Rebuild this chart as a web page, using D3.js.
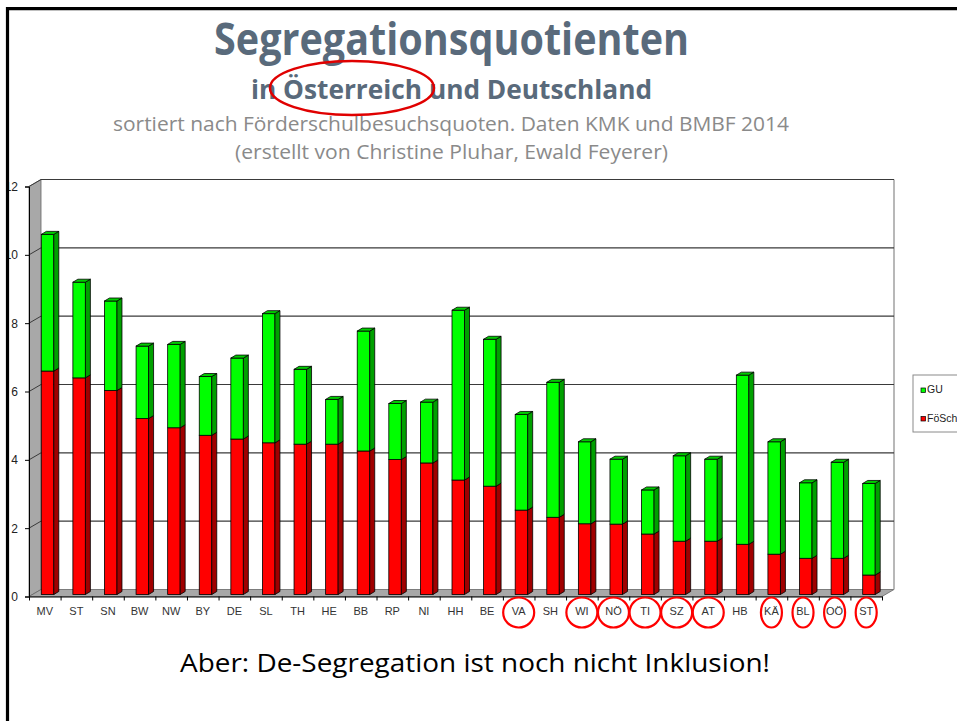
<!DOCTYPE html>
<html>
<head>
<meta charset="utf-8">
<script src="https://cdn.jsdelivr.net/npm/d3@7"></script>
<style>
  body { margin: 0; background: #fff; }
  svg { display: block; }
</style>
</head>
<body>
<div class="svg-container"></div>
<script>
var width = 957,
  height = 721;

// Bundesländer (DE) und Bundesländer (AT), sortiert nach Förderschulbesuchsquote
var categories = ["MV", "ST", "SN", "BW", "NW", "BY", "DE", "SL", "TH", "HE", "BB", "RP", "NI", "HH",
  "BE", "VA", "SH", "WI", "NÖ", "TI", "SZ", "AT", "HB", "KÄ", "BL", "OÖ", "ST"];
var foesch = [6.54, 6.34, 5.97, 5.15, 4.88, 4.66, 4.55, 4.44, 4.40, 4.40, 4.20, 3.95, 3.85, 3.35,
  3.17, 2.47, 2.26, 2.07, 2.06, 1.77, 1.56, 1.56, 1.47, 1.18, 1.06, 1.06, 0.57];
var gu = [4.00, 2.80, 2.62, 2.12, 2.44, 1.72, 2.37, 3.78, 2.19, 1.31, 3.51, 1.64, 1.78, 4.97,
  4.30, 2.80, 3.95, 2.40, 1.90, 1.29, 2.50, 2.40, 4.95, 3.29, 2.21, 2.81, 2.68];
var seriesNames = ["FöSch", "GU"];
var yTicks = [0, 2, 4, 6, 8, 10, 12];
// österreichische Länder, rot eingekreist
var circled = [15, 17, 18, 19, 20, 21, 23, 24, 25, 26];

var svg = d3.select(".svg-container").append("svg")
  .attr("width", width)
  .attr("height", height);

// ---- titles
var titleColor = "#596a7b";
function fitText(txt, x1, x2, y, size, weight, fill) {
  svg.append("text")
    .attr("x", x1)
    .attr("y", y)
    .attr("textLength", x2 - x1)
    .attr("lengthAdjust", "spacingAndGlyphs")
    .style("font-family", "'Open Sans', sans-serif")
    .style("font-size", size + "px")
    .style("font-weight", weight)
    .attr("fill", fill)
    .text(txt);
}
fitText("Segregationsquotienten", 214, 689, 55, 44, "bold", titleColor);
fitText("in Österreich und Deutschland", 251, 652, 99, 27, "bold", titleColor);
fitText("sortiert nach Förderschulbesuchsquoten. Daten KMK und BMBF 2014", 113, 789, 131, 19.5, "normal", "#8a8a8a");
fitText("(erstellt von Christine Pluhar, Ewald Feyerer)", 235, 668, 159, 20.5, "normal", "#8a8a8a");

svg.append("ellipse")
  .attr("cx", 352).attr("cy", 88)
  .attr("rx", 82).attr("ry", 27)
  .attr("fill", "none")
  .attr("stroke", "#e00000")
  .attr("stroke-width", 2.5);

// ---- chart geometry
var x = d3.scaleBand()
  .domain(d3.range(categories.length))
  .range([29, 882]);
var xEdge = d3.scaleLinear()
  .domain([0, categories.length])
  .range([29, 882]);
var y = d3.scaleLinear()
  .domain([0, 12])
  .range([596.5, 186.5]);

var dx = 12, dy = -7;        // depth of the wall/floor
var bdx = 5, bdy = -3;       // depth of a bar
var bw = 12.5;

var chart = svg.append("g");

// left wall
chart.append("polygon")
  .attr("points", [[x.range()[0], y(0)], [x.range()[0], y(12)], [x.range()[0] + dx, y(12) + dy], [x.range()[0] + dx, y(0) + dy]].join(" "))
  .attr("fill", "#a8a8a8")
  .attr("stroke", "#666")
  .attr("stroke-width", 0.8);

// floor
chart.append("polygon")
  .attr("points", [[x.range()[0], y(0)], [x.range()[1], y(0)], [x.range()[1] + dx, y(0) + dy], [x.range()[0] + dx, y(0) + dy]].join(" "))
  .attr("fill", "#a8a8a8")
  .attr("stroke", "#666")
  .attr("stroke-width", 0.8);

// right edge of back wall
chart.append("line")
  .attr("x1", x.range()[1] + dx).attr("x2", x.range()[1] + dx)
  .attr("y1", y(12) + dy).attr("y2", y(0) + dy)
  .attr("stroke", "#a0a0a0")
  .attr("stroke-width", 1.5);

// grid lines on back wall + diagonals on left wall
var grid = chart.selectAll(".grid")
  .data(yTicks.filter(function(d) { return d > 0; }))
  .enter().append("g")
  .attr("class", "grid");
grid.append("line")
  .attr("x1", x.range()[0] + dx)
  .attr("x2", x.range()[1] + dx)
  .attr("y1", function(d) { return y(d) + dy; })
  .attr("y2", function(d) { return y(d) + dy; })
  .attr("stroke", "#3a3a3a")
  .attr("stroke-width", 1.2);
grid.append("line")
  .attr("x1", x.range()[0])
  .attr("x2", x.range()[0] + dx)
  .attr("y1", function(d) { return y(d); })
  .attr("y2", function(d) { return y(d) + dy; })
  .attr("stroke", "#3a3a3a")
  .attr("stroke-width", 1);

// ---- bars
var table = categories.map(function(c, i) {
  return { "FöSch": foesch[i], "GU": gu[i], i: i };
});
var stack = d3.stack().keys(seriesNames)(table);
var colors = {
  "FöSch": { front: "#ff0000", side: "#a00000", top: "#d00000" },
  "GU": { front: "#00ff00", side: "#00a000", top: "#00cc00" }
};

stack.forEach(function(layer, li) {
  var col = colors[layer.key];
  var g = chart.append("g").attr("class", "series");
  var bars = g.selectAll("g")
    .data(layer)
    .enter().append("g");

  function bx(d) { return x(d.data.i) + x.bandwidth() / 2 - 3.5; }
  function by(v) { return y(v) - 2; }

  bars.append("rect")
    .attr("x", bx)
    .attr("y", function(d) { return by(d[1]); })
    .attr("width", bw)
    .attr("height", function(d) { return by(d[0]) - by(d[1]); })
    .attr("fill", col.front)
    .attr("stroke", "#000")
    .attr("stroke-width", 0.8);

  bars.append("polygon")
    .attr("points", function(d) {
      var x0 = bx(d) + bw, y0 = by(d[0]), y1 = by(d[1]);
      return [[x0, y1], [x0 + bdx, y1 + bdy], [x0 + bdx, y0 + bdy], [x0, y0]].join(" ");
    })
    .attr("fill", col.side)
    .attr("stroke", "#000")
    .attr("stroke-width", 0.8);

  if (li === stack.length - 1) {
    bars.append("polygon")
      .attr("points", function(d) {
        var x0 = bx(d), y1 = by(d[1]);
        return [[x0, y1], [x0 + bw, y1], [x0 + bw + bdx, y1 + bdy], [x0 + bdx, y1 + bdy]].join(" ");
      })
      .attr("fill", col.top)
      .attr("stroke", "#000")
      .attr("stroke-width", 0.8);
  }
});

// ---- axes
var yAxis = chart.append("g")
  .attr("transform", "translate(" + x.range()[0] + ",0)")
  .call(d3.axisLeft(y).tickValues(yTicks).tickSize(4).tickPadding(7));
yAxis.select(".domain").attr("stroke", "#000");
yAxis.selectAll("text")
  .style("font-family", "Arial, 'Liberation Sans', sans-serif")
  .style("font-size", "12px")
  .attr("fill", "#222");

var xAxis = chart.append("g")
  .attr("transform", "translate(0," + y(0) + ")")
  .call(d3.axisBottom(x).tickSize(0).tickPadding(10.5)
    .tickFormat(function(i) { return categories[i]; }));
xAxis.select(".domain").attr("stroke", "#000");
xAxis.selectAll("text")
  .style("font-family", "Arial, 'Liberation Sans', sans-serif")
  .style("font-size", "11px")
  .attr("fill", "#333");

chart.append("g")
  .attr("transform", "translate(0," + y(0) + ")")
  .call(d3.axisBottom(xEdge).tickValues(d3.range(categories.length + 1)).tickSize(4).tickFormat(""))
  .select(".domain").remove();

// red circles around Austrian labels
chart.selectAll(".circ")
  .data(circled)
  .enter().append("ellipse")
  .attr("class", "circ")
  .attr("cx", function(i) { return x(i) + x.bandwidth() / 2; })
  .attr("cy", y(0) + 16)
  .attr("rx", function(i) { return i > 22 ? 10.5 : 15.5; })
  .attr("ry", 15)
  .attr("fill", "none")
  .attr("stroke", "#ff0000")
  .attr("stroke-width", 2.2);

// ---- legend
var legend = svg.append("g").attr("transform", "translate(913,375)");
legend.append("rect")
  .attr("width", 60).attr("height", 57)
  .attr("fill", "#fff")
  .attr("stroke", "#8a8a8a");
var li = legend.selectAll(".li")
  .data(seriesNames.slice().reverse())
  .enter().append("g")
  .attr("transform", function(d, i) { return "translate(8," + (13 + i * 28.5) + ")"; });
li.append("rect")
  .attr("width", 4.5).attr("height", 4.5)
  .attr("fill", function(d) { return colors[d].front; })
  .attr("stroke", "#000")
  .attr("stroke-width", 0.7);
li.append("text")
  .attr("x", 6)
  .attr("y", 5)
  .style("font-family", "Arial, 'Liberation Sans', sans-serif")
  .style("font-size", "10.5px")
  .attr("fill", "#222")
  .text(function(d) { return d; });

// ---- bottom remark
fitText("Aber: De-Segregation ist noch nicht Inklusion!", 180, 770, 672, 26, "normal", "#000");

// ---- slide frame (covers cut-off tick labels)
svg.append("rect")
  .attr("x", 0).attr("y", 0)
  .attr("width", 6).attr("height", height)
  .attr("fill", "#fff");
svg.append("path")
  .attr("d", "M7.5," + height + "V8.7H" + width)
  .attr("fill", "none")
  .attr("stroke", "#000")
  .attr("stroke-width", 3.2);
</script>
</body>
</html>
